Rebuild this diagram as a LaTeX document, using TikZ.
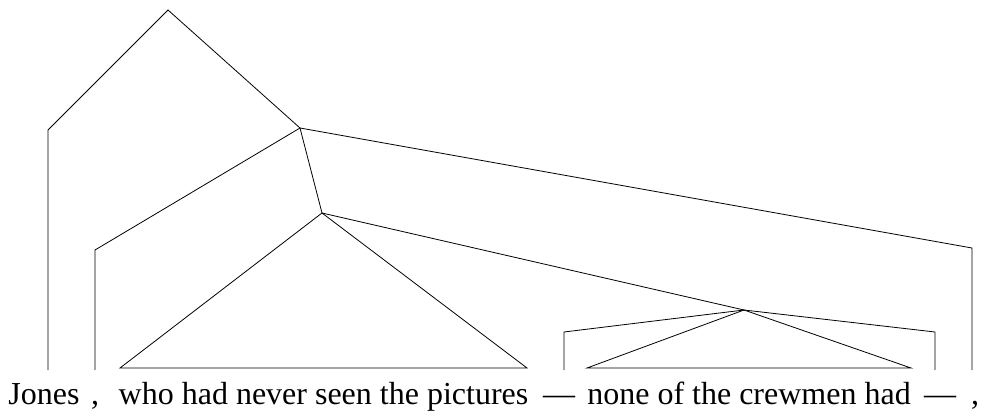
\documentclass[tikz,border=0pt]{standalone}
\usepackage{fontspec}
\setmainfont{Liberation Serif}
\begin{document}
\begin{tikzpicture}[x=1pt,y=-1pt,line width=0.8pt,
  word/.style={anchor=base,inner sep=0pt,font=\fontsize{32}{32}\selectfont}]
\useasboundingbox (0,0) rectangle (984,417);
% words
\node[word] (w1) at (44,404) {Jones};
\node[word] (w2) at (95,404) {,};
\node[word] (w3) at (323.5,404) {who had never seen the pictures};
\node[word] (w4) at (559,404) {---};
\node[word] (w5) at (749,404) {none of the crewmen had};
\node[word] (w6) at (940,404) {---};
\node[word] (w7) at (975,404) {,};
% tree points
\coordinate (A) at (168,10);
\coordinate (B) at (300,128);
\coordinate (C) at (322,213);
\coordinate (D) at (744,310);
\coordinate (a1) at (48,130);  \coordinate (a2) at (48,370);
\coordinate (b1) at (95,250);  \coordinate (b2) at (95,370);
\coordinate (b3) at (972,248); \coordinate (b4) at (972,370);
\coordinate (c1) at (120,368); \coordinate (c2) at (527,368);
\coordinate (d1) at (564,332); \coordinate (d2) at (564,370);
\coordinate (d3) at (935,332); \coordinate (d4) at (935,370);
\coordinate (e1) at (587,368); \coordinate (e2) at (911,368);
\draw (a2) -- (a1) -- (A) -- (B);
\draw (b2) -- (b1) -- (B) -- (b3) -- (b4);
\draw (B) -- (C);
\draw (c1) -- (C) -- (c2) -- cycle;
\draw (C) -- (D);
\draw (d2) -- (d1) -- (D) -- (d3) -- (d4);
\draw (e1) -- (D) -- (e2) -- cycle;
\end{tikzpicture}
\end{document}
